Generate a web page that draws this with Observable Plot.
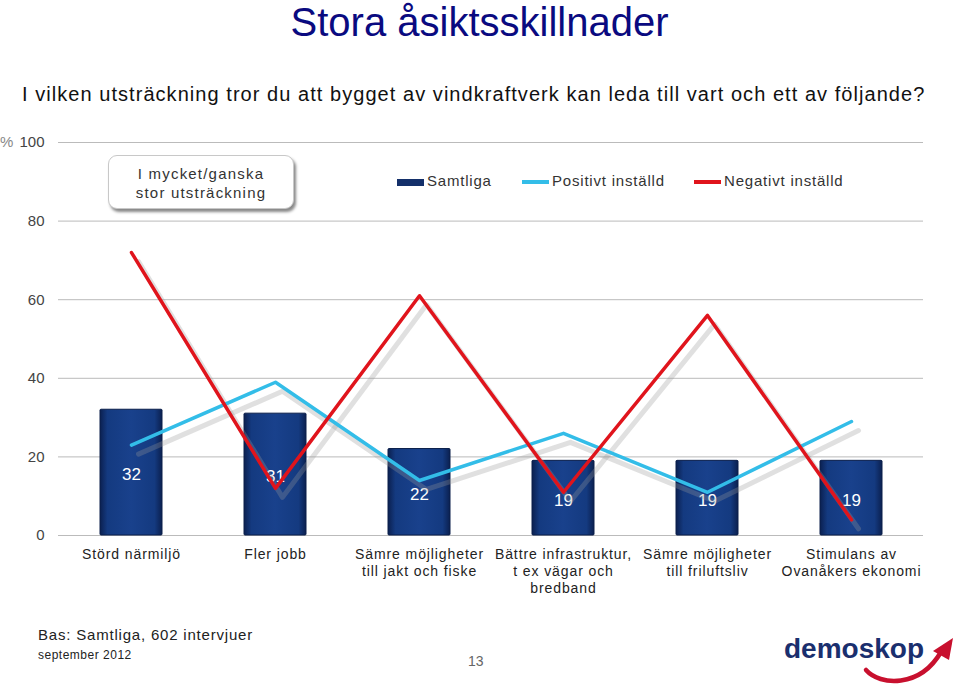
<!DOCTYPE html>
<html><head><meta charset="utf-8">
<script src="https://cdn.jsdelivr.net/npm/d3@7"></script>
<script src="https://cdn.jsdelivr.net/npm/@observablehq/plot@0.6"></script>
<style>
body{margin:0;width:959px;height:688px;position:relative;background:#fff;font-family:"Liberation Sans",Arial,sans-serif;overflow:hidden}
.abs{position:absolute}
#title{left:0;width:959px;top:0px;text-align:center;font-size:40px;color:#0a0a80;letter-spacing:0px}
#sub{left:22px;top:83px;font-size:20px;color:#111;letter-spacing:1.05px;white-space:nowrap}
#chart{left:0;top:125px}
#chart g[aria-label="x-axis tick label"] text{letter-spacing:0.9px}
#note{left:108px;top:155px;width:186px;height:54px;border:1px solid #c8c8c8;border-radius:9px;box-shadow:2px 3px 3px #888;background:#fff;text-align:center;font-size:15px;color:#333;letter-spacing:1.2px;line-height:19px;padding-top:8px;box-sizing:border-box}
.leg{top:172px;font-size:15px;color:#333;letter-spacing:0.8px;white-space:nowrap}
.sw{display:inline-block;width:27px;vertical-align:middle;margin-right:3px}
#bas{left:38px;top:626px;font-size:15px;color:#222;letter-spacing:0.8px}
#sep{left:38px;top:648px;font-size:12px;color:#222;letter-spacing:0.5px}
#pg{left:468px;top:653px;font-size:14px;color:#666}
</style></head>
<body>
<div id="title" class="abs">Stora åsiktsskillnader</div>
<div id="sub" class="abs">I vilken utsträckning tror du att bygget av vindkraftverk kan leda till vart och ett av följande?</div>
<div id="chart" class="abs"></div>
<div id="note" class="abs">I mycket/ganska<br>stor utsträckning</div>
<div class="abs leg" style="left:397px"><span class="sw" style="height:7px;background:#14306a"></span>Samtliga</div>
<div class="abs leg" style="left:522px"><span class="sw" style="height:4px;background:#33bde8"></span>Positivt inställd</div>
<div class="abs leg" style="left:694px"><span class="sw" style="height:4px;background:#e0141c"></span>Negativt inställd</div>
<div id="bas" class="abs">Bas: Samtliga, 602 intervjuer</div>
<div id="sep" class="abs">september 2012</div>
<div id="pg" class="abs">13</div>
<svg class="abs" style="left:780px;top:630px" width="179" height="58">
  <text x="4" y="28" font-family="Liberation Sans, Arial, sans-serif" font-weight="bold" font-size="28" fill="#1a2f6e" letter-spacing="0">demoskop</text>
  <path d="M86,40 C100,56 140,58 161,22" fill="none" stroke="#c8102e" stroke-width="4.5" stroke-linecap="round"/>
  <path d="M153,21 L173,8 L169,30 Z" fill="#c8102e"/>
</svg>
<script>
const categories = ["Störd närmiljö","Fler jobb","Sämre möjligheter\ntill jakt och fiske","Bättre infrastruktur,\nt ex vägar och\nbredband","Sämre möjligheter\ntill friluftsliv","Stimulans av\nOvanåkers ekonomi"];
const samtliga = [32, 31, 22, 19, 19, 19];
const positivt = [23, 39, 14, 26, 11, 29];
const negativt = [72, 12, 61, 11, 56, 4];
const yTicks = [0, 20, 40, 60, 80, 100];

const bars = categories.map((c,i)=>({c, v: samtliga[i]}));
const pos = categories.map((c,i)=>({c, v: positivt[i]}));
const neg = categories.map((c,i)=>({c, v: negativt[i]}));

const chart = Plot.plot({
  width: 959, height: 480,
  marginLeft: 58, marginRight: 36, marginTop: 17, marginBottom: 70,
  style: {fontFamily: '"Liberation Sans",Arial,sans-serif', background: "transparent"},
  x: {domain: categories, paddingInner: 0.57, paddingOuter: 0.285, label: null},
  y: {domain: [0, 100], label: null},
  marks: [
    Plot.gridY(yTicks, {stroke: "#bbb", strokeOpacity: 1, strokeWidth: 1}),
    Plot.axisY(yTicks, {tickSize: 0, tickPadding: 14, fontSize: 15, fill: "#444", label: null}),
    Plot.axisX({tickSize: 0, tickPadding: 12, fontSize: 14, fill: "#222", lineHeight: 1.2, label: null, textAnchor: "middle"}),
    Plot.barY(bars, {x: "c", y: "v", fill: "url(#barGrad)", stroke: "#0a1e4a", strokeWidth: 1, rx: 1}),
    Plot.text(bars, {x: "c", y: d => d.v / 2, text: d => String(d.v), fill: "#fff", fontSize: 17, dy: 2}),
    Plot.lineY(pos, {x: "c", y: "v", stroke: "#999", strokeWidth: 5, strokeOpacity: 0.3, dx: 7, dy: 9}),
    Plot.lineY(neg, {x: "c", y: "v", stroke: "#999", strokeWidth: 5, strokeOpacity: 0.3, dx: 7, dy: 9}),
    Plot.lineY(pos, {x: "c", y: "v", stroke: "#33bde8", strokeWidth: 3.5}),
    Plot.lineY(neg, {x: "c", y: "v", stroke: "#e0141c", strokeWidth: 3.5})
  ]
});
const ns = "http://www.w3.org/2000/svg";
const defs = document.createElementNS(ns, "defs");
defs.innerHTML = `<linearGradient id="barGrad" x1="0" x2="1" y1="0" y2="0">
  <stop offset="0" stop-color="#0b2050"/><stop offset="0.12" stop-color="#143a80"/>
  <stop offset="0.5" stop-color="#19418c"/><stop offset="0.88" stop-color="#143a80"/>
  <stop offset="1" stop-color="#0b2050"/></linearGradient>`;
chart.insertBefore(defs, chart.firstChild);
document.getElementById("chart").appendChild(chart);
const pct = document.createElement("div");
pct.className = "abs";
pct.style.cssText = "left:0px;top:133px;font-size:15px;color:#888;font-family:'Liberation Sans',Arial,sans-serif";
pct.textContent = "%";
document.body.appendChild(pct);
</script>
</body></html>
